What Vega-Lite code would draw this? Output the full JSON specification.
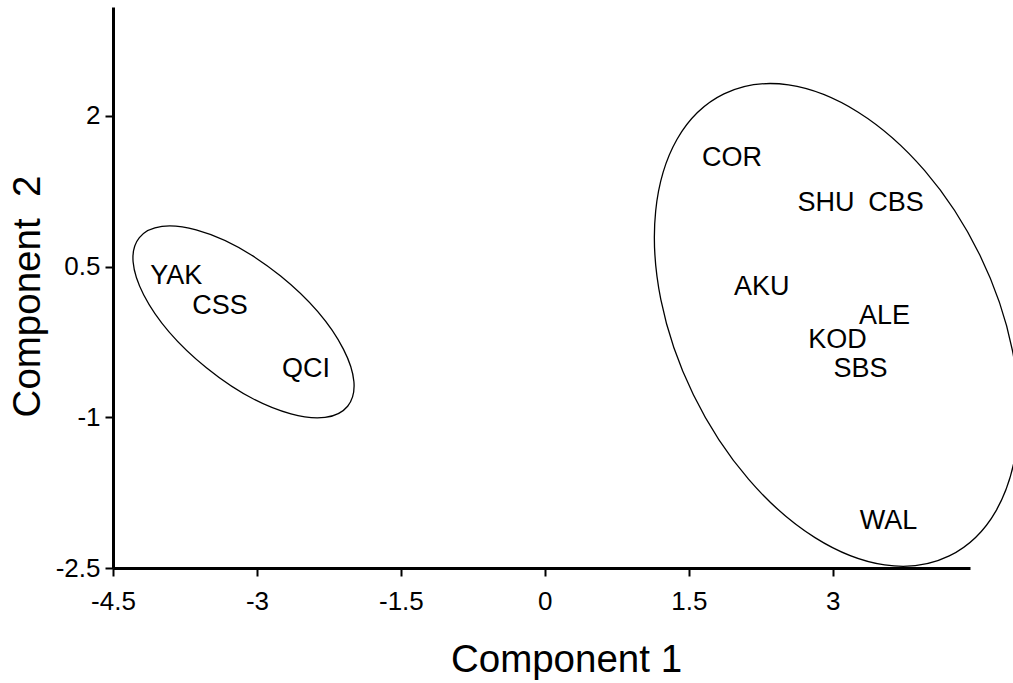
{
  "$schema": "https://vega.github.io/schema/vega-lite/v6.json",
  "width": 857,
  "height": 561,
  "autosize": {"type": "none"},
  "padding": {"left": 113, "top": 7, "right": 43, "bottom": 115},
  "background": "white",
  "config": {
    "view": {"stroke": null},
    "font": "Liberation Sans",
    "axis": {
      "grid": false,
      "domainColor": "black",
      "domainWidth": 3,
      "tickColor": "black",
      "tickWidth": 2,
      "tickSize": 8,
      "labelColor": "black",
      "labelFont": "Liberation Sans",
      "labelFontSize": 26,
      "labelFlush": false,
      "labelExpr": "'' + datum.value",
      "titleColor": "black",
      "titleFont": "Liberation Sans",
      "titleFontSize": 38.5,
      "titleFontWeight": "normal",
      "labelOverlap": false
    }
  },
  "datasets": {
    "populations": [
      {"pop": "YAK", "c1": -3.84, "c2": 0.41},
      {"pop": "CSS", "c1": -3.385, "c2": 0.108},
      {"pop": "QCI", "c1": -2.49, "c2": -0.519},
      {"pop": "COR", "c1": 1.95, "c2": 1.58},
      {"pop": "SHU", "c1": 2.93, "c2": 1.134},
      {"pop": "CBS", "c1": 3.66, "c2": 1.134},
      {"pop": "AKU", "c1": 2.26, "c2": 0.297},
      {"pop": "ALE", "c1": 3.54, "c2": 0.009},
      {"pop": "KOD", "c1": 3.05, "c2": -0.23},
      {"pop": "SBS", "c1": 3.29, "c2": -0.519},
      {"pop": "WAL", "c1": 3.58, "c2": -2.03}
    ],
    "clusters": [
      {"cluster": "west", "c1": -3.14, "c2": -0.05},
      {"cluster": "east", "c1": 3.04, "c2": -0.08}
    ]
  },
  "layer": [
    {
      "data": {"name": "clusters"},
      "transform": [{"filter": "datum.cluster === 'west'"}],
      "mark": {
        "type": "point",
        "filled": false,
        "stroke": "black",
        "strokeWidth": 1.3,
        "opacity": 1,
        "shape": "M -1 0 A 1 0.44 0 1 1 1 0 A 1 0.44 0 1 1 -1 0 Z",
        "size": 71824,
        "angle": 39
      },
      "encoding": {
        "x": {
          "field": "c1",
          "type": "quantitative",
          "scale": {"domain": [-4.5, 4.43], "nice": false, "zero": false},
          "axis": {
            "title": "Component 1",
            "values": [-4.5, -3, -1.5, 0, 1.5, 3],
            "labelPadding": 12,
            "titlePadding": 27,
            "titleX": 453
          }
        },
        "y": {
          "field": "c2",
          "type": "quantitative",
          "scale": {"domain": [-2.5, 3.085], "nice": false, "zero": false},
          "axis": {
            "title": "Component \u00a02",
            "values": [-2.5, -1, 0.5, 2],
            "labelPadding": 5,
            "titleX": -66,
            "titleY": 289
          }
        }
      }
    },
    {
      "data": {"name": "clusters"},
      "transform": [{"filter": "datum.cluster === 'east'"}],
      "mark": {
        "type": "point",
        "filled": false,
        "stroke": "black",
        "strokeWidth": 1.3,
        "opacity": 1,
        "shape": "M -1 0 A 1 0.62 0 1 1 1 0 A 1 0.62 0 1 1 -1 0 Z",
        "size": 264196,
        "angle": 64
      },
      "encoding": {
        "x": {"field": "c1", "type": "quantitative"},
        "y": {"field": "c2", "type": "quantitative"}
      }
    },
    {
      "data": {"name": "populations"},
      "mark": {
        "type": "text",
        "font": "Liberation Sans",
        "fontSize": 27,
        "color": "black",
        "align": "center",
        "baseline": "middle"
      },
      "encoding": {
        "x": {"field": "c1", "type": "quantitative"},
        "y": {"field": "c2", "type": "quantitative"},
        "text": {"field": "pop"}
      }
    }
  ]
}
